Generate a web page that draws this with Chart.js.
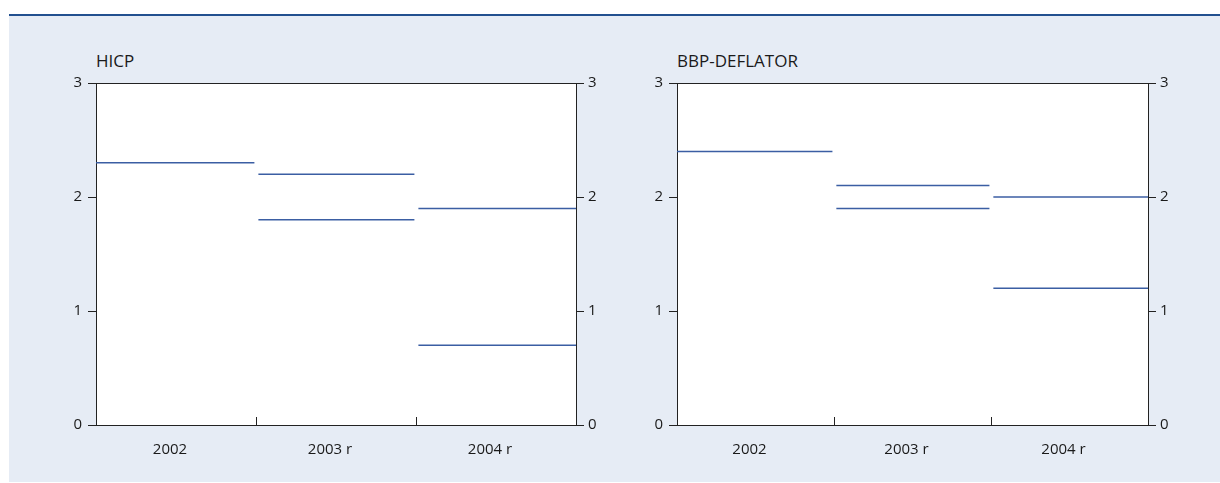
<!DOCTYPE html>
<html lang="en">
<head>
    <meta charset=utf-8>
    <title>HICP en BBP-deflator</title>
    <script type="text/javascript" src="https://cdn.jsdelivr.net/npm/chart.js@4/dist/chart.umd.min.js"></script>
    <style>
        body { margin: 0; background: #fff; width: 1220px; height: 483px; position: relative; overflow: hidden;
               font-family: "Open Sans", "Noto Sans", sans-serif; }
        #rule { position: absolute; left: 9px; top: 14px; width: 1211px; height: 2px; background: #22508f; }
        #panel { position: absolute; left: 9px; top: 16px; width: 1211px; height: 466px; background: #e6ecf5; }
        canvas { position: absolute; top: 16px; }
        .title { position: absolute; top: 52px; font-size: 17px; line-height: 17px; color: #1a1a1a; }
    </style>
</head>
<body>
<div id="rule"></div>
<div id="panel"></div>
<div class="title" style="left:96px">HICP</div>
<div class="title" style="left:677px">BBP-DEFLATOR</div>
<canvas id="hicpChart" width="620" height="467" style="left:0"></canvas>
<canvas id="deflatorChart" width="600" height="467" style="left:620px"></canvas>
<script>
    var categories = ['2002', '2003 r', '2004 r'];
    var hicpValues = [[2.3], [2.2, 1.8], [1.9, 0.7]];
    var deflatorValues = [[2.4], [2.1, 1.9], [2.0, 1.2]];
    var yTicks = [0, 1, 2, 3];

    var lineColor = '#3b5ea3';
    var axisColor = '#222';
    var textColor = '#1a1a1a';
    var tickFont = {family: '"Open Sans", "Noto Sans", sans-serif', size: 15};

    // white plot area, top frame line, small inward ticks between categories
    var framePlugin = {
        id: 'frame',
        beforeDraw: function (chart) {
            var a = chart.chartArea, ctx = chart.ctx;
            ctx.save();
            ctx.fillStyle = '#fff';
            ctx.fillRect(a.left, a.top, a.right - a.left, a.bottom - a.top);
            ctx.restore();
        },
        afterDraw: function (chart) {
            var a = chart.chartArea, ctx = chart.ctx, x = chart.scales.x;
            ctx.save();
            ctx.strokeStyle = axisColor;
            ctx.lineWidth = 1;
            ctx.beginPath();
            ctx.moveTo(a.left, a.top + 0.5);
            ctx.lineTo(a.right, a.top + 0.5);
            for (var i = 1; i < categories.length; i++) {
                var px = Math.round(x.getPixelForValue(i)) + 0.5;
                ctx.moveTo(px, a.bottom);
                ctx.lineTo(px, a.bottom - 8);
            }
            ctx.stroke();
            ctx.restore();
        }
    };

    function yAxis(position, padding) {
        return {
            position: position,
            min: 0,
            max: 3,
            afterBuildTicks: function (s) {
                s.ticks = yTicks.map(function (v) { return {value: v}; });
            },
            afterFit: function (s) { s.width = 30; },
            grid: {drawOnChartArea: false, tickLength: 8, color: axisColor},
            border: {color: axisColor, width: 1},
            ticks: {padding: padding, color: textColor, font: tickFont}
        };
    }

    function makeChart(id, values, padding) {
        var datasets = [];
        values.forEach(function (vals, i) {
            vals.forEach(function (v) {
                var x0 = i === 0 ? 0 : i + 0.015;
                var x1 = i === categories.length - 1 ? i + 1 : i + 0.99;
                datasets.push({
                    data: [{x: x0, y: v}, {x: x1, y: v}],
                    borderColor: lineColor,
                    borderWidth: 1.5,
                    pointRadius: 0,
                    fill: false
                });
            });
        });

        return new Chart(document.getElementById(id), {
            type: 'line',
            data: {datasets: datasets},
            options: {
                responsive: false,
                animation: false,
                layout: {padding: padding},
                plugins: {legend: {display: false}, tooltip: {enabled: false}},
                scales: {
                    x: {
                        type: 'linear',
                        min: 0,
                        max: categories.length,
                        afterBuildTicks: function (s) {
                            s.ticks = categories.map(function (c, i) { return {value: i + 0.5}; });
                        },
                        afterFit: function (s) { s.height = 40; },
                        grid: {display: false},
                        border: {color: axisColor, width: 1},
                        ticks: {
                            callback: function (v, i) { return categories[i]; },
                            padding: 8,
                            labelOffset: -6,
                            maxRotation: 0,
                            autoSkip: false,
                            color: textColor,
                            font: tickFont
                        }
                    },
                    y: yAxis('left', 6),
                    y2: yAxis('right', 4)
                }
            },
            plugins: [framePlugin]
        });
    }

    makeChart('hicpChart', hicpValues, {left: 66, right: 14, top: 67, bottom: 18});
    makeChart('deflatorChart', deflatorValues, {left: 27, right: 42, top: 67, bottom: 18});
</script>
</body>
</html>
